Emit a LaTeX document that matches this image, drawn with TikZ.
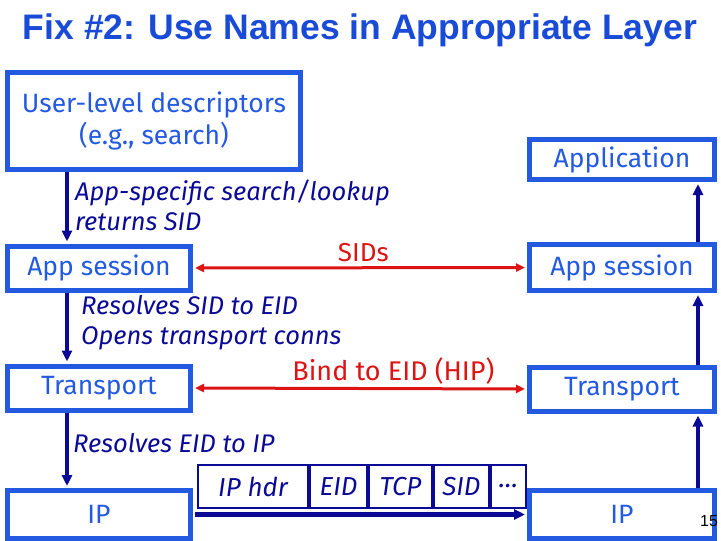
\documentclass[tikz,border=0pt]{standalone}
\usepackage{fontspec}
\setmainfont{Fira Sans}
\newfontfamily\titlefont{Liberation Sans}
\usetikzlibrary{calc,positioning,arrows.meta}
\tikzset{>={Triangle[length=11pt,width=10pt]}}

\definecolor{boxblue}{RGB}{35,90,225}
\definecolor{titleblue}{RGB}{25,75,215}
\definecolor{navy}{RGB}{10,10,150}
\definecolor{sidred}{RGB}{220,20,20}

\tikzset{
  layer/.style={draw=boxblue, line width=5pt, text=boxblue, inner sep=0pt,
    minimum width=183pt, minimum height=44pt, font=\fontsize{26.5}{32}\selectfont},
  flow/.style={->, draw=navy, line width=4.5pt},
  bind/.style={<->, draw=sidred, line width=3pt, >={Triangle[length=9pt,width=8pt]}},
  note/.style={text=navy, align=left, anchor=west, inner sep=0pt,
    font=\fontsize{25.5}{30}\selectfont\itshape},
  cell/.style={draw=navy, line width=2pt, text=navy, inner sep=0pt,
    minimum height=43pt, font=\fontsize{26}{28}\selectfont\itshape},
}

\begin{document}
\begin{tikzpicture}[x=1pt,y=-1pt]
  \useasboundingbox (0,0) rectangle (721,541);
  \node[text=titleblue, font=\titlefont\fontsize{35.5}{40}\selectfont\bfseries] (title) at (360,30)
    {Fix \#2: Use Names in Appropriate Layer};

  % left stack
  \node[layer, minimum width=293pt, minimum height=97pt, align=center] (user) at (154,121)
    {User-level descriptors\\(e.g., search)};
  \node[layer] (lsess) at (99,268) {App session};
  \node[layer] (ltrans) at (99,388) {Transport};
  \node[layer, minimum height=48pt] (lip) at (99,514.5) {IP};

  % right stack
  \node[layer, minimum width=185pt, minimum height=40pt] (rapp) at (622,159.5) {Application};
  \node[layer, minimum width=185pt, minimum height=46pt] (rsess) at (622,267.5) {App session};
  \node[layer, minimum width=185pt] (rtrans) at (622,389) {Transport};
  \node[layer, minimum width=185pt, minimum height=48pt] (rip) at (622,514.5) {IP};

  \coordinate (lx) at (67,0);
  \coordinate (rx) at (698,0);

  % going down
  \draw[flow, shorten >=2pt] (user.south -| lx) -- (lsess.north -| lx);
  \draw[flow, shorten >=2pt] (lsess.south -| lx) -- (ltrans.north -| lx);
  \draw[flow, shorten >=2pt] (ltrans.south -| lx) -- (lip.north -| lx);

  % going up
  \draw[flow, shorten >=2pt] (rip.north -| rx) -- (rtrans.south -| rx);
  \draw[flow, shorten >=2pt] (rtrans.north -| rx) -- (rsess.south -| rx);
  \draw[flow, shorten >=2pt] (rsess.north -| rx) -- (rapp.south -| rx);

  \node[note] (lookup) at (75,205) {App-specific search/lookup\\returns SID};
  \node[note] (resolve) at (81,323) {Resolves SID to EID\\Opens transport conns};
  \node[note] (toip) at (73,443) {Resolves EID to IP};

  % names carried across
  \draw[bind, shorten <=2pt, shorten >=2pt] (lsess.east) -- (rsess.west)
    node[pos=0.51, above=1pt, text=sidred, font=\fontsize{26}{28}\selectfont] (sids) {SIDs};
  \draw[bind, shorten <=2pt, shorten >=2pt] (ltrans.east) -- (rtrans.west)
    node[pos=0.6, above=-1pt, text=sidred, font=\fontsize{27}{30}\selectfont] (hip) {Bind to EID (HIP)};

  % packet
  \node[cell, minimum width=110pt] (hdr) at (253,486.5) {IP hdr};
  \node[cell, minimum width=57pt, right=0pt of hdr] (eid) {EID};
  \node[cell, minimum width=63pt, right=0pt of eid] (tcp) {TCP};
  \node[cell, minimum width=55pt, right=0pt of tcp] (sid) {SID};
  \node[cell, minimum width=35pt, right=0pt of sid] (more) {\ldots};
  \draw[flow, shorten <=2pt, shorten >=2pt] (lip.east) -- (rip.west);

  \node[font=\titlefont\fontsize{16}{18}\selectfont] (pg) at (709,521) {15};
\end{tikzpicture}
\end{document}
